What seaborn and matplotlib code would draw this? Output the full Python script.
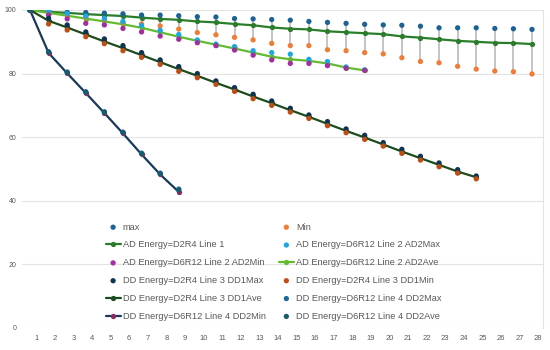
import numpy as np
import pandas as pd
import matplotlib
matplotlib.use("Agg")
import matplotlib.pyplot as plt
import matplotlib.transforms as mtransforms
import seaborn as sns

# x categories (1..28)
x_all = list(range(1, 29))

# max / Min envelope over all runs
max_vals = [100, 99.7, 99.3, 99.2, 99.0, 98.8, 98.4, 98.4, 98.2, 97.9, 97.8, 97.3, 97.2, 97.0,
            96.8, 96.4, 96.1, 95.8, 95.5, 95.3, 95.2, 94.9, 94.4, 94.4, 94.4, 94.2, 94.1, 93.9]
min_vals = [100, 99.2, 98.5, 97.8, 97.0, 96.1, 95.6, 95.0, 94.0, 92.9, 92.2, 91.4, 90.6, 89.5,
            88.8, 88.8, 87.5, 87.2, 86.6, 86.2, 85.0, 83.8, 83.4, 82.3, 81.4, 80.8, 80.6, 79.9]

# AD Energy=D2R4 Line 1
ad1 = [100, 99.4, 99.1, 98.7, 98.4, 98.1, 97.6, 97.2, 96.9, 96.4, 96.1, 95.6, 95.2, 94.5,
       94.1, 93.9, 93.3, 93.0, 92.7, 92.4, 91.7, 91.3, 90.8, 90.3, 90.0, 89.7, 89.6, 89.3]

# AD Energy=D6R12 Line 2 (x 1..19)
x_ad2 = list(range(1, 20))
ad2_max = [100, 99.7, 98.9, 98.1, 97.3, 96.4, 95.1, 93.6, 92.3, 90.6, 89.3, 88.5, 87.2, 86.6,
           86.1, 84.5, 83.8, 82.1, 81.2]
ad2_min = [100, 98.4, 97.2, 95.8, 95.3, 94.2, 93.1, 91.8, 90.8, 89.7, 88.8, 87.4, 85.8, 84.3,
           83.2, 83.2, 82.5, 81.7, 81.0]
ad2_ave = [100, 99.1, 98.2, 97.3, 96.4, 95.5, 94.4, 93.0, 91.6, 90.3, 89.1, 87.9, 86.6, 85.3,
           84.5, 84.0, 83.2, 81.9, 81.0]

# DD Energy=D2R4 Line 3 (x 1..25)
x_dd1 = list(range(1, 26))
dd1_max = [100, 97.4, 95.3, 93.1, 90.9, 88.8, 86.6, 84.3, 82.2, 80.0, 77.7, 75.6, 73.5, 71.4,
           69.1, 67.0, 64.9, 62.6, 60.6, 58.3, 56.2, 54.0, 51.9, 49.8, 47.8]
dd1_min = [100, 95.6, 93.7, 91.6, 89.4, 87.2, 85.1, 82.9, 80.7, 78.7, 76.6, 74.4, 72.1, 70.0,
           67.9, 65.9, 63.6, 61.4, 59.3, 57.2, 54.9, 52.8, 50.7, 48.7, 46.9]
dd1_ave = [100, 96.6, 94.5, 92.3, 90.1, 88.0, 85.8, 83.6, 81.4, 79.3, 77.1, 75.0, 72.8, 70.7,
           68.5, 66.4, 64.2, 62.0, 59.9, 57.7, 55.5, 53.4, 51.3, 49.2, 47.4]

# DD Energy=D6R12 Line 4 (x 1..9)
x_dd2 = list(range(1, 10))
dd2_max = [100, 86.9, 80.5, 74.3, 68.0, 61.6, 55.0, 48.7, 43.7]
dd2_min = [100, 86.5, 80.1, 73.9, 67.6, 61.2, 54.6, 48.3, 42.8]
dd2_ave = [100, 86.7, 80.3, 74.1, 67.8, 61.4, 54.8, 48.5, 43.4]

sns.set_theme(style="white")
plt.rcParams['font.family'] = ['Liberation Sans', 'DejaVu Sans']

fig = plt.figure(figsize=(5.5, 3.5), dpi=100)
ax = fig.add_axes([22 / 550, 1 - 328 / 350, 521 / 550, 318 / 350])

# high-low lines between max and Min
ax.vlines(x_all, min_vals, max_vals, color='#bfbfbf', lw=1.3, zorder=1)

ms = 3.8
s = ms ** 2
sc = dict(s=s, edgecolor='none', zorder=3, ax=ax)
ln = dict(marker='o', markersize=ms, markeredgewidth=0, lw=1.6, zorder=2, ax=ax)

sns.scatterplot(x=x_all, y=max_vals, color='#1d6294', label='max', **sc)
sns.scatterplot(x=x_all, y=min_vals, color='#f07c35', label='Min', **sc)
sns.lineplot(x=x_all, y=ad1, color='#2a7d2a', label='AD Energy=D2R4 Line 1', **ln)
sns.scatterplot(x=x_ad2, y=ad2_max, color='#1ca7e2', label='AD Energy=D6R12 Line 2 AD2Max', **sc)
sns.scatterplot(x=x_ad2, y=ad2_min, color='#a32da3', label='AD Energy=D6R12 Line 2 AD2Min', **sc)
sns.lineplot(x=x_ad2, y=ad2_ave, color='#62bb30', label='AD Energy=D6R12 Line 2 AD2Ave', **ln)
sns.scatterplot(x=x_dd1, y=dd1_max, color='#0f3452', label='DD Energy=D2R4 Line 3 DD1Max', **sc)
sns.scatterplot(x=x_dd1, y=dd1_min, color='#c04d14', label='DD Energy=D2R4 Line 3 DD1Min', **sc)
sns.lineplot(x=x_dd1, y=dd1_ave, color='#1c4c1c', label='DD Energy=D2R4 Line 3 DD1Ave', **ln)
sns.lineplot(x=x_dd2, y=dd2_min, color='#17395a', label='DD Energy=D6R12 Line 4 DD2Min',
             marker='o', markersize=ms, markeredgewidth=0, markerfacecolor='#8c2a5e', lw=1.6,
             zorder=2, ax=ax)
sns.scatterplot(x=x_dd2, y=dd2_max, color='#1f6a9c', label='DD Energy=D6R12 Line 4 DD2Max', **sc)
sns.scatterplot(x=x_dd2, y=dd2_ave, color='#155d6c', label='DD Energy=D6R12 Line 4 DD2Ave', **sc)

ax.set_xlim(1 - 8 / 18.6, 28 + 11 / 18.6)
ax.set_ylim(0, 100)
ax.set_xticks(x_all)
ax.set_xticklabels([str(v) for v in x_all])
ax.set_yticks([0, 20, 40, 60, 80, 100])
ax.tick_params(axis='x', length=0, pad=5, labelsize=5.5, labelcolor='#595959')
ax.tick_params(axis='y', length=0, pad=4, labelsize=5, labelcolor='#595959')
offset = mtransforms.ScaledTranslation(4.5 / 72, 0, fig.dpi_scale_trans)
for lab in ax.get_xticklabels():
    lab.set_transform(lab.get_transform() + offset)
ax.grid(axis='y', color='#e3e3e3', lw=0.8)
ax.set_axisbelow(True)
for side in ['top', 'left', 'bottom']:
    ax.spines[side].set_visible(False)
ax.spines['right'].set_color('#e3e3e3')
ax.spines['right'].set_linewidth(0.8)
ax.set_xlabel('')
ax.set_ylabel('')

# legend, filled row by row in two columns (series order as in the workbook)
handles, labels = ax.get_legend_handles_labels()
names = ['max', 'Min', 'AD Energy=D2R4 Line 1', 'AD Energy=D6R12 Line 2 AD2Max',
         'AD Energy=D6R12 Line 2 AD2Min', 'AD Energy=D6R12 Line 2 AD2Ave',
         'DD Energy=D2R4 Line 3 DD1Max', 'DD Energy=D2R4 Line 3 DD1Min',
         'DD Energy=D2R4 Line 3 DD1Ave', 'DD Energy=D6R12 Line 4 DD2Max',
         'DD Energy=D6R12 Line 4 DD2Min', 'DD Energy=D6R12 Line 4 DD2Ave']
order = [0, 2, 4, 6, 8, 10, 1, 3, 5, 7, 9, 11]
lookup = dict(zip(labels, handles))
ordered = [names[i] for i in order]
leg = ax.legend([lookup[n] for n in ordered], ordered, ncol=2, frameon=False,
                fontsize=6.7, labelcolor='#595959', handlelength=1.6, handletextpad=0.25,
                columnspacing=1.4, labelspacing=0.95, borderpad=0,
                loc='upper left', bbox_to_anchor=(101 / 550, 1 - 218 / 350),
                bbox_transform=fig.transFigure)

fig.savefig('out.png', dpi=100, facecolor='white')
